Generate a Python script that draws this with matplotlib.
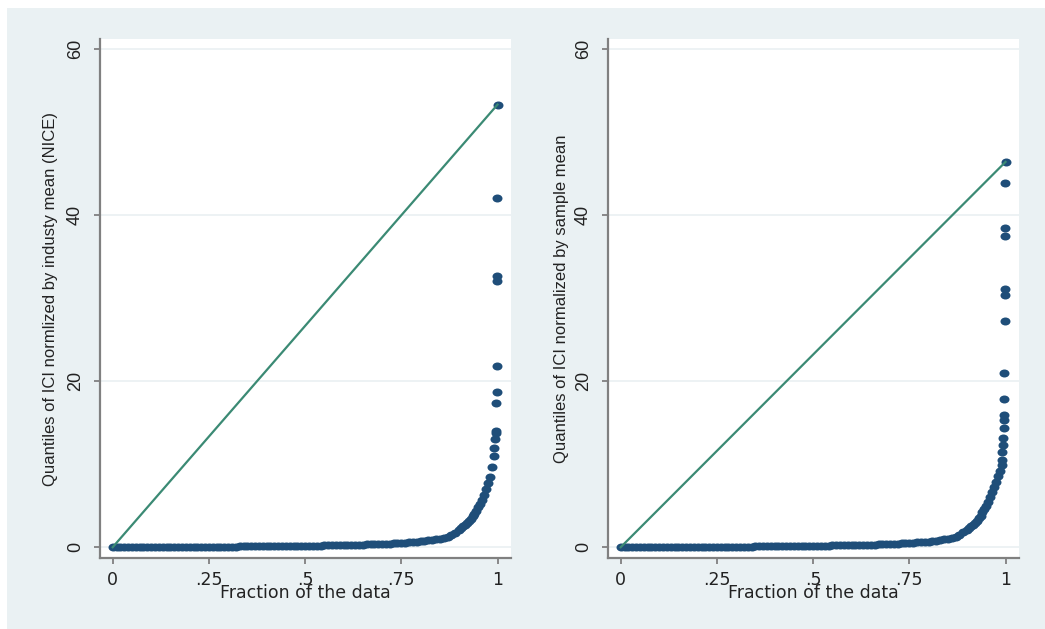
import matplotlib
matplotlib.use("Agg")
import matplotlib.pyplot as plt
from matplotlib.patches import Rectangle
from matplotlib.path import Path
from matplotlib.transforms import Affine2D

# ==============================
# DATA
# ==============================

# fraction of the data for the dense body of both quantile plots
BASE_FRAC = [
    0.00, 0.01, 0.02, 0.03, 0.04, 0.05, 0.06, 0.07, 0.08, 0.09,
    0.10, 0.11, 0.12, 0.13, 0.14, 0.15, 0.16, 0.17, 0.18, 0.19,
    0.20, 0.21, 0.22, 0.23, 0.24, 0.25, 0.26, 0.27, 0.28, 0.29,
    0.30, 0.31, 0.32, 0.33, 0.34, 0.35, 0.36, 0.37, 0.38, 0.39,
    0.40, 0.41, 0.42, 0.43, 0.44, 0.45, 0.46, 0.47, 0.48, 0.49,
    0.50, 0.51, 0.52, 0.53, 0.54, 0.55, 0.56, 0.57, 0.58, 0.59,
    0.60, 0.61, 0.62, 0.63, 0.64, 0.65, 0.66, 0.67, 0.68, 0.69,
    0.70, 0.71, 0.72, 0.73, 0.74, 0.75, 0.76, 0.77, 0.78, 0.79,
    0.80, 0.81, 0.82, 0.83, 0.84, 0.85, 0.86, 0.87, 0.88, 0.89,
    0.900, 0.905, 0.910, 0.915, 0.920, 0.925, 0.930, 0.935, 0.940, 0.945,
    0.950, 0.955, 0.960, 0.965, 0.970, 0.975, 0.980, 0.985, 0.990,
]

# ICI normalized by industry mean (NICE)
NICE_BASE = [
    0.00, 0.00, 0.01, 0.01, 0.01, 0.01, 0.02, 0.02, 0.02, 0.02,
    0.02, 0.03, 0.03, 0.03, 0.03, 0.03, 0.04, 0.04, 0.04, 0.04,
    0.05, 0.05, 0.05, 0.05, 0.06, 0.06, 0.06, 0.06, 0.07, 0.07,
    0.08, 0.08, 0.08, 0.09, 0.09, 0.10, 0.10, 0.10, 0.11, 0.11,
    0.11, 0.12, 0.12, 0.13, 0.13, 0.14, 0.14, 0.15, 0.16, 0.16,
    0.17, 0.18, 0.18, 0.19, 0.20, 0.21, 0.22, 0.23, 0.24, 0.25,
    0.26, 0.27, 0.28, 0.29, 0.30, 0.32, 0.33, 0.35, 0.36, 0.38,
    0.40, 0.42, 0.44, 0.46, 0.49, 0.52, 0.55, 0.58, 0.62, 0.66,
    0.71, 0.76, 0.82, 0.88, 0.95, 1.03, 1.12, 1.25, 1.45, 1.75,
    2.10, 2.30, 2.50, 2.70, 2.90, 3.15, 3.40, 3.70, 4.00, 4.40,
    4.80, 5.20, 5.70, 6.30, 7.00, 7.70, 8.50, 9.60, 11.0,
]
NICE_TAIL_FRAC = [0.992, 0.994, 0.995, 0.996, 0.997, 0.998, 0.998, 0.999, 0.999, 0.9995, 1.0]
NICE_TAIL = [12.0, 13.0, 13.8, 14.0, 17.4, 18.7, 21.8, 32.1, 32.7, 42.1, 53.3]

# ICI normalized by sample mean
SAMPLE_BASE = [
    0.00, 0.00, 0.00, 0.01, 0.01, 0.01, 0.01, 0.01, 0.02, 0.02,
    0.02, 0.02, 0.02, 0.03, 0.03, 0.03, 0.03, 0.03, 0.04, 0.04,
    0.04, 0.04, 0.05, 0.05, 0.05, 0.05, 0.06, 0.06, 0.06, 0.07,
    0.07, 0.07, 0.08, 0.08, 0.08, 0.09, 0.09, 0.10, 0.10, 0.11,
    0.11, 0.11, 0.12, 0.12, 0.13, 0.13, 0.14, 0.15, 0.15, 0.16,
    0.17, 0.17, 0.18, 0.19, 0.20, 0.21, 0.22, 0.23, 0.24, 0.25,
    0.26, 0.27, 0.28, 0.29, 0.30, 0.31, 0.32, 0.34, 0.35, 0.37,
    0.39, 0.41, 0.43, 0.45, 0.48, 0.51, 0.54, 0.57, 0.60, 0.64,
    0.68, 0.73, 0.79, 0.86, 0.94, 1.03, 1.14, 1.28, 1.50, 1.80,
    2.10, 2.30, 2.50, 2.70, 2.90, 3.20, 3.50, 3.80, 4.20, 4.60,
    5.00, 5.50, 6.00, 6.60, 7.20, 7.90, 8.60, 9.20, 9.90,
]
SAMPLE_TAIL_FRAC = [0.991, 0.992, 0.993, 0.994, 0.995, 0.9955, 0.996, 0.9965,
                    0.997, 0.9975, 0.998, 0.9985, 0.999, 0.9993, 0.9996, 1.0]
SAMPLE_TAIL = [10.5, 11.5, 12.3, 13.1, 14.4, 15.3, 15.9, 17.9,
               21.0, 27.3, 30.4, 31.1, 37.5, 38.5, 43.8, 46.4]

Y_TICKS = [0, 20, 40, 60]
X_TICKS = [0, 0.25, 0.5, 0.75, 1]
X_TICK_LABELS = ["0", ".25", ".5", ".75", "1"]

YLABEL_LEFT = "Quantiles of ICI normlized by industy mean (NICE)"
YLABEL_RIGHT = "Quantiles of ICI normalized by sample mean"
XLABEL = "Fraction of the data"

# ==============================
# STYLE
# ==============================

W, H = 1045, 629
BG = "#eaf1f3"
DOT = "#1f4e79"
REF_LINE = "#3b8a74"
AXIS_GRAY = "#808080"
GRID = "#edf2f4"
TEXT = "#222222"

# slightly wide dots, like the stretched Stata export
OVAL = Path.unit_circle().transformed(Affine2D().scale(1.25, 1.0))


def px_axes(fig, x0, y0, x1, y1):
    # pixel box (top-left origin) -> figure fraction
    return fig.add_axes([x0 / W, 1 - y1 / H, (x1 - x0) / W, (y1 - y0) / H])


def draw_panel(ax, frac, vals, ylabel, ylabel_x):
    ax.set_facecolor("white")
    ax.plot(frac, vals, linestyle="none", marker=OVAL, color=DOT, ms=7.2, mew=0, zorder=3)
    # reference line from smallest to largest value (uniform quantiles)
    ax.plot([frac[0], frac[-1]], [vals[0], vals[-1]], color=REF_LINE, lw=1.6, zorder=4)

    ax.set_xlim(-0.033, 1.035)
    ax.set_ylim(-1.3, 61.2)
    ax.set_yticks(Y_TICKS)
    ax.set_xticks(X_TICKS)
    ax.set_xticklabels(X_TICK_LABELS, fontsize=12.5, family="DejaVu Sans", color=TEXT)
    ax.set_yticklabels([str(t) for t in Y_TICKS], fontsize=13, family="Liberation Sans",
                       rotation=90, va="center", ha="right", color=TEXT)

    ax.grid(axis="y", color=GRID, lw=1.4)
    ax.set_axisbelow(True)
    for side in ("top", "right"):
        ax.spines[side].set_visible(False)
    for side in ("left", "bottom"):
        ax.spines[side].set_color(AXIS_GRAY)
        ax.spines[side].set_linewidth(1.6)
    ax.tick_params(axis="both", color=AXIS_GRAY, width=1.3, length=4.5)
    ax.tick_params(axis="y", pad=7)
    ax.tick_params(axis="x", pad=5)

    ax.set_xlabel(XLABEL, fontsize=12.5, family="DejaVu Sans", color=TEXT)
    ax.xaxis.set_label_coords(0.5, -0.068)
    ax.xaxis.label.set_va("center")

    ax.set_ylabel(ylabel, fontsize=12, family="Liberation Sans", color=TEXT)
    ax.yaxis.set_label_coords(ylabel_x, 0.5)
    ax.yaxis.label.set_va("center")


def main():
    fig = plt.figure(figsize=(W / 100, H / 100), dpi=100, facecolor="white")
    fig.patches.append(Rectangle((7 / W, 0), 1 - 7 / W, 1 - 8 / H,
                                 transform=fig.transFigure, facecolor=BG,
                                 edgecolor="none", zorder=-10))

    ax1 = px_axes(fig, 100, 39, 511, 558)
    ax2 = px_axes(fig, 608, 39, 1019, 558)

    draw_panel(ax1, BASE_FRAC + NICE_TAIL_FRAC, NICE_BASE + NICE_TAIL, YLABEL_LEFT, -0.121)
    draw_panel(ax2, BASE_FRAC + SAMPLE_TAIL_FRAC, SAMPLE_BASE + SAMPLE_TAIL, YLABEL_RIGHT, -0.112)

    fig.savefig("out.png", dpi=100, facecolor=fig.get_facecolor())


if __name__ == "__main__":
    main()
